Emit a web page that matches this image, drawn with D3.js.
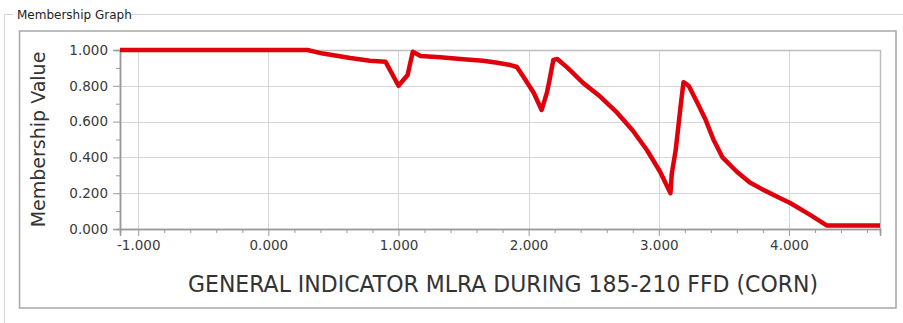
<!DOCTYPE html>
<html>
<head>
<meta charset="utf-8">
<script src="https://cdn.jsdelivr.net/npm/d3@7"></script>
<style>
  html, body { margin: 0; padding: 0; background: #fff; }
  svg { display: block; }
</style>
</head>
<body>
<svg id="chart" width="903" height="323"></svg>
<script>
// ---- data ----
const xValues = [-1.14, 0.30, 0.42, 0.63, 0.78, 0.90, 1.00, 1.07, 1.11, 1.17, 1.32, 1.50, 1.65, 1.76, 1.86, 1.91, 1.96,
  2.04, 2.10, 2.14, 2.16, 2.19, 2.22, 2.30, 2.42, 2.55, 2.68, 2.80, 2.91, 3.01, 3.09, 3.10, 3.13, 3.15, 3.17, 3.19,
  3.23, 3.30, 3.36, 3.42, 3.49, 3.60, 3.70, 3.80, 3.91, 4.01, 4.16, 4.29, 4.70];
const membership = [1.0, 1.0, 0.98, 0.955, 0.94, 0.935, 0.80, 0.86, 0.99, 0.966, 0.959, 0.948, 0.940, 0.929, 0.916, 0.905, 0.851,
  0.76, 0.665, 0.76, 0.83, 0.945, 0.95, 0.90, 0.815, 0.74, 0.65, 0.55, 0.44, 0.32, 0.20, 0.31, 0.44, 0.57, 0.70, 0.82,
  0.80, 0.70, 0.61, 0.50, 0.40, 0.32, 0.26, 0.22, 0.18, 0.145, 0.08, 0.02, 0.02];
const xTicks = [-1, 0, 1, 2, 3, 4];
const yTicks = [0, 0.2, 0.4, 0.6, 0.8, 1.0];
const groupTitle = "Membership Graph";
const yTitle = "Membership Value";
const xTitle = "GENERAL INDICATOR MLRA DURING 185-210 FFD (CORN)";

// ---- layout ----
const svg = d3.select("#chart");
const plot = { left: 120, right: 880, top: 50, bottom: 229 };
const x = d3.scaleLinear().domain([-1.14, 4.70]).range([plot.left, plot.right]);
const y = d3.scaleLinear().domain([0, 1]).range([plot.bottom, plot.top]);
const font = "'DejaVu Sans', Verdana, sans-serif";
const fmt = v => d3.format(".3f")(v).replace("\u2212", "-");

// group box
svg.append("path")
  .attr("d", "M4.5,323 V14.5 H13 M130,14.5 H903")
  .attr("fill", "none").attr("stroke", "#d4d4d4").attr("stroke-width", 1);
svg.append("text").attr("x", 17).attr("y", 19)
  .attr("font-family", font).attr("font-size", 12).attr("fill", "#222")
  .text(groupTitle);

// inner panel border
svg.append("rect").attr("x", 19.5).attr("y", 31).attr("width", 876.5).attr("height", 277)
  .attr("fill", "#fff").attr("stroke", "#a8a8a8").attr("stroke-width", 1.5);

// plot background
svg.append("rect").attr("x", plot.left).attr("y", plot.top)
  .attr("width", plot.right - plot.left).attr("height", plot.bottom - plot.top)
  .attr("fill", "#fff");

// grid
const g = svg.append("g");
g.selectAll(".vg").data(xTicks).enter().append("line")
  .attr("x1", d => Math.round(x(d)) + 0.5).attr("x2", d => Math.round(x(d)) + 0.5)
  .attr("y1", plot.top).attr("y2", plot.bottom)
  .attr("stroke", "#d6d6d6").attr("stroke-width", 1);
g.selectAll(".hg").data(yTicks).enter().append("line")
  .attr("x1", plot.left).attr("x2", plot.right)
  .attr("y1", d => Math.round(y(d)) + 0.5).attr("y2", d => Math.round(y(d)) + 0.5)
  .attr("stroke", "#d6d6d6").attr("stroke-width", 1);

// plot border (top and right)
svg.append("path")
  .attr("d", `M${plot.left},${plot.top + 0.5} H${plot.right + 0.5} V${plot.bottom}`)
  .attr("fill", "none").attr("stroke", "#bdbdbd").attr("stroke-width", 1.5);

// axes
const xMinor = d3.range(-1.0, 4.71, 0.2).filter(v => Math.abs(v - Math.round(v)) > 1e-6);
const xAxisMinor = d3.axisBottom(x).tickValues(xMinor).tickSize(4).tickFormat("");
const xAxis = d3.axisBottom(x).tickValues(xTicks).tickSize(7).tickPadding(4).tickFormat(fmt);
const yMinor = d3.range(0.1, 1.0, 0.2);
const yAxisMinor = d3.axisLeft(y).tickValues(yMinor).tickSize(4).tickFormat("");
const yAxis = d3.axisLeft(y).tickValues(yTicks).tickSize(7).tickPadding(5).tickFormat(fmt);

function styleAxis(sel) {
  sel.select(".domain").attr("stroke", "#9a9a9a").attr("stroke-width", 1.5);
  sel.selectAll(".tick line").attr("stroke", "#9a9a9a");
  sel.selectAll(".tick text").attr("font-family", font).attr("font-size", 13.5).attr("fill", "#3a3a3a");
}
svg.append("g").attr("transform", `translate(0,${plot.bottom})`).call(xAxisMinor).call(styleAxis);
svg.append("g").attr("transform", `translate(0,${plot.bottom})`).call(xAxis).call(styleAxis);
svg.append("g").attr("transform", `translate(${plot.left},0)`).call(yAxisMinor).call(styleAxis);
svg.append("g").attr("transform", `translate(${plot.left},0)`).call(yAxis).call(styleAxis);

// series line
const pts = xValues.map((v, i) => [v, membership[i]]);
svg.append("path").datum(pts)
  .attr("d", d3.line().x(d => x(d[0])).y(d => y(d[1])))
  .attr("fill", "none").attr("stroke", "#e0000c").attr("stroke-width", 4.5)
  .attr("stroke-linejoin", "round").attr("stroke-linecap", "butt");

// axis titles
svg.append("text")
  .attr("transform", `translate(45,${(plot.top + plot.bottom) / 2}) rotate(-90)`)
  .attr("text-anchor", "middle")
  .attr("font-family", font).attr("font-size", 19).attr("fill", "#333")
  .text(yTitle);
svg.append("text")
  .attr("x", (plot.left + plot.right) / 2 + 3).attr("y", 292)
  .attr("text-anchor", "middle")
  .attr("font-family", font).attr("font-size", 23).attr("fill", "#333")
  .attr("textLength", 630).attr("lengthAdjust", "spacingAndGlyphs")
  .text(xTitle);
</script>
</body>
</html>
